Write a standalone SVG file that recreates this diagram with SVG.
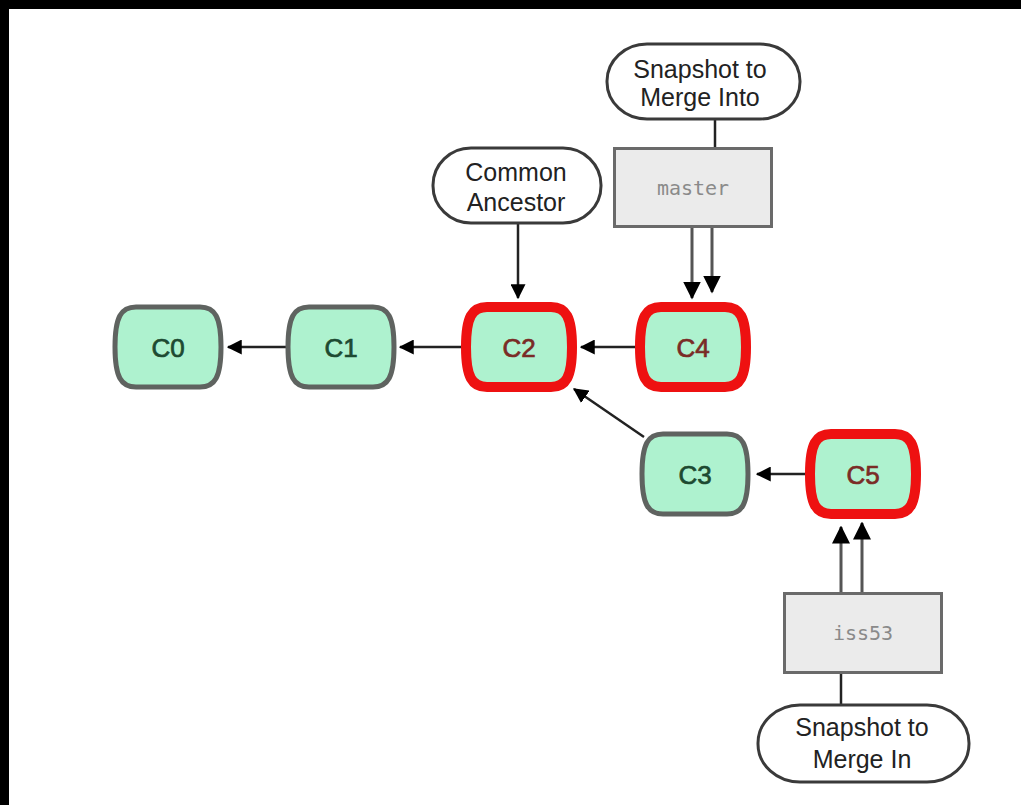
<svg xmlns="http://www.w3.org/2000/svg" width="1021" height="805" viewBox="0 0 1021 805">
<defs>
<style>
.bub{fill:#fff;stroke:#3a3a3a;stroke-width:3}
.bt{font-family:"Liberation Sans",Arial,sans-serif;font-size:25px;fill:#222;text-anchor:middle}
.br{fill:#ebebeb;stroke:#6a6a6a;stroke-width:3}
.brt{font-family:"DejaVu Sans Mono","Liberation Mono",monospace;font-size:20px;fill:#8a8a8a;text-anchor:middle}
.cg{fill:#aef2cf;stroke:#5f6360;stroke-width:5}
.cr{fill:#aef2cf;stroke:#ee1111;stroke-width:10}
.ct{font-family:"Liberation Sans",Arial,sans-serif;font-size:26px;text-anchor:middle;stroke-width:0.7}
.tg{fill:#1d4a31;stroke:#1d4a31}
.tr{fill:#7a2b26;stroke:#7a2b26}
.ln{stroke:#222;stroke-width:2.5;fill:none}
.la{stroke:#222;stroke-width:2.5;fill:none;marker-end:url(#ah)}
.lb{stroke:#555;stroke-width:3;fill:none;marker-end:url(#ah)}
</style>
<marker id="ah" markerWidth="6" markerHeight="6" refX="5.5" refY="3" orient="auto" markerUnits="strokeWidth" viewBox="0 0 6 6">
<path d="M0,0 L6,3 L0,6 z" fill="#000"/>
</marker>
<path id="cs" d="M-32,-40 H32 C47,-40 53,-30 53,0 C53,30 47,40 32,40 H-32 C-47,40 -53,30 -53,0 C-53,-30 -47,-40 -32,-40 Z"/>
</defs>
<rect x="0" y="0" width="1021" height="805" fill="#000"/>
<rect x="9" y="9" width="1012" height="796" fill="#fff"/>

<g id="connectors">
<line class="ln" x1="715" y1="119" x2="715" y2="147"/>
<line class="la" x1="518" y1="223" x2="518" y2="298"/>
<line class="lb" x1="692" y1="228" x2="692" y2="298"/>
<line class="lb" x1="712" y1="228" x2="712" y2="292"/>
<line class="la" x1="287" y1="347" x2="228" y2="347"/>
<line class="la" x1="462" y1="347" x2="400" y2="347"/>
<line class="la" x1="635" y1="347" x2="581" y2="347"/>
<line class="la" x1="644" y1="437" x2="574" y2="389"/>
<line class="la" x1="805" y1="474" x2="757" y2="474"/>
<line class="lb" x1="841" y1="592" x2="841" y2="527"/>
<line class="lb" x1="862" y1="592" x2="862" y2="523"/>
<line class="ln" x1="841" y1="674" x2="841" y2="705"/>
</g>

<g id="snap-into">
<rect class="bub" x="607" y="44" width="193" height="75" rx="40" ry="37"/>
<text class="bt" x="700" y="78">Snapshot to</text>
<text class="bt" x="700" y="106">Merge Into</text>
</g>
<g id="master">
<rect class="br" x="614.5" y="148.5" width="157" height="78"/>
<text class="brt" x="693" y="195">master</text>
</g>
<g id="common-ancestor">
<rect class="bub" x="433" y="148" width="168" height="75" rx="38" ry="37"/>
<text class="bt" x="516" y="181">Common</text>
<text class="bt" x="516" y="211">Ancestor</text>
</g>
<g id="C0">
<use href="#cs" class="cg" x="168" y="347"/>
<text class="ct tg" x="168" y="357">C0</text>
</g>
<g id="C1">
<use href="#cs" class="cg" x="341" y="347"/>
<text class="ct tg" x="341" y="357">C1</text>
</g>
<g id="C2">
<use href="#cs" class="cr" x="519" y="347"/>
<text class="ct tr" x="519" y="357">C2</text>
</g>
<g id="C4">
<use href="#cs" class="cr" x="693" y="347"/>
<text class="ct tr" x="693" y="357">C4</text>
</g>
<g id="C3">
<use href="#cs" class="cg" x="695" y="474"/>
<text class="ct tg" x="695" y="484">C3</text>
</g>
<g id="C5">
<use href="#cs" class="cr" x="863" y="474"/>
<text class="ct tr" x="863" y="484">C5</text>
</g>
<g id="iss53">
<rect class="br" x="784.5" y="593.5" width="157" height="79"/>
<text class="brt" x="863" y="640">iss53</text>
</g>
<g id="snap-in">
<rect class="bub" x="758" y="705" width="211" height="77" rx="42" ry="38"/>
<text class="bt" x="862" y="736">Snapshot to</text>
<text class="bt" x="862" y="768">Merge In</text>
</g>
</svg>
